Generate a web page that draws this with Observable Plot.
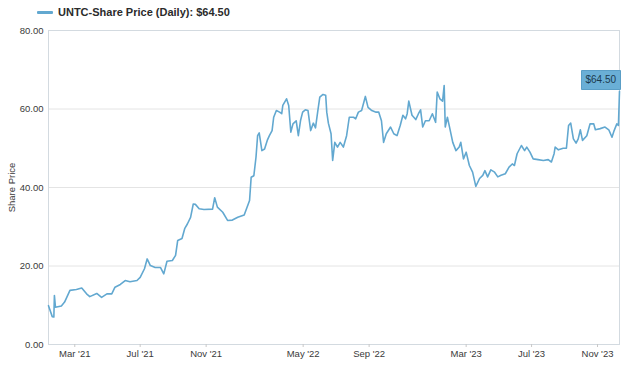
<!DOCTYPE html>
<html><head><meta charset="utf-8">
<script src="https://cdn.jsdelivr.net/npm/d3@7"></script>
<script src="https://cdn.jsdelivr.net/npm/@observablehq/plot@0.6"></script>
<style>
body{margin:0;background:#fff;font-family:"Liberation Sans",Arial,sans-serif;}
#legend{height:24px;display:flex;align-items:center;padding-left:37px;font-size:11px;font-weight:bold;color:#2b2b2b;}
#legend .sw{width:16px;height:3px;background:#62a8d0;margin-right:5px;border-radius:1px}
g[aria-label="tip"] text{fill:#1c3a4e}
</style></head><body>
<div id="legend"><span class="sw"></span><span id="legtext">UNTC-Share Price (Daily): $64.50</span></div>
<div id="chart"></div>
<script>
const seriesName = "UNTC-Share Price (Daily)";
const dates = [
"2021-01-11","2021-01-18","2021-01-21","2021-01-22","2021-01-24","2021-02-04","2021-02-10","2021-02-20",
"2021-03-04","2021-03-14","2021-03-23","2021-03-29","2021-04-11","2021-04-20","2021-04-30","2021-05-09",
"2021-05-15","2021-05-25","2021-06-03","2021-06-12","2021-06-25","2021-07-01","2021-07-09","2021-07-14",
"2021-07-20","2021-07-29","2021-08-08","2021-08-14","2021-08-20","2021-08-30","2021-09-05","2021-09-09",
"2021-09-17","2021-09-22","2021-09-27","2021-10-03","2021-10-08","2021-10-12","2021-10-19","2021-10-28",
"2021-11-13","2021-11-17","2021-11-22","2021-12-02","2021-12-11","2021-12-20","2021-12-30","2022-01-11",
"2022-01-21","2022-01-24","2022-01-29","2022-02-02","2022-02-05","2022-02-08","2022-02-13","2022-02-18",
"2022-02-23","2022-02-27","2022-03-04","2022-03-07","2022-03-12","2022-03-18","2022-03-22","2022-03-24",
"2022-03-31","2022-04-04","2022-04-08","2022-04-12","2022-04-18","2022-04-22","2022-04-26","2022-04-30",
"2022-05-05","2022-05-10","2022-05-15","2022-05-20","2022-05-24","2022-05-28","2022-06-01","2022-06-07",
"2022-06-12","2022-06-14","2022-06-17","2022-06-22","2022-06-25","2022-06-29","2022-07-04","2022-07-09",
"2022-07-15","2022-07-21","2022-07-26","2022-08-03","2022-08-07","2022-08-12","2022-08-18","2022-08-25",
"2022-08-30","2022-09-06","2022-09-14","2022-09-19","2022-09-24","2022-09-28","2022-10-03","2022-10-11",
"2022-10-17","2022-10-23","2022-10-29","2022-11-03","2022-11-08","2022-11-11","2022-11-14","2022-11-20",
"2022-11-27","2022-12-02","2022-12-06","2022-12-10","2022-12-15","2022-12-22","2022-12-28","2023-01-03",
"2023-01-06","2023-01-11","2023-01-16","2023-01-19","2023-01-21","2023-01-25","2023-01-29","2023-02-04",
"2023-02-10","2023-02-16","2023-02-19","2023-02-24","2023-03-01","2023-03-07","2023-03-13","2023-03-19",
"2023-03-26","2023-04-01","2023-04-05","2023-04-10","2023-04-16","2023-04-23","2023-04-29","2023-05-05",
"2023-05-13","2023-05-20","2023-05-26","2023-05-30","2023-06-04","2023-06-12","2023-06-18","2023-06-22",
"2023-06-28","2023-07-04","2023-07-13","2023-07-23","2023-08-01","2023-08-07","2023-08-12","2023-08-14",
"2023-08-20","2023-08-29","2023-09-04","2023-09-08","2023-09-12","2023-09-17","2023-09-22","2023-09-26",
"2023-09-30","2023-10-04","2023-10-12","2023-10-18","2023-10-25","2023-10-28","2023-11-06","2023-11-15",
"2023-11-22","2023-11-28","2023-12-02","2023-12-07","2023-12-10","2023-12-12"
];
const prices = [
9.9,7.1,7.0,12.5,9.5,9.8,10.8,13.8,
14.0,14.4,12.9,12.2,13.0,12.0,12.9,12.9,
14.6,15.3,16.3,16.0,16.3,17.1,19.3,21.8,
20.1,19.6,19.6,18.0,21.2,21.4,22.7,26.5,
27.0,29.5,30.7,32.4,35.8,35.7,34.6,34.4,
34.5,37.4,35.0,33.7,31.6,31.7,32.4,33.0,
36.7,42.6,43.0,47.7,53.2,53.9,49.4,49.8,
52.0,53.2,54.5,57.9,59.6,59.2,58.8,60.9,
62.6,60.9,54.1,56.2,57.0,53.2,57.0,59.2,
59.8,59.6,54.5,56.4,55.2,59.2,63.0,63.7,
63.5,59.2,56.4,53.7,46.9,51.5,50.3,51.5,
50.3,53.2,57.9,57.9,57.5,59.2,59.6,63.2,
60.4,59.6,59.2,59.2,57.0,51.5,53.7,55.4,
53.7,53.2,55.8,58.4,57.5,58.8,62.0,58.4,
57.3,58.8,59.8,55.4,57.0,57.0,58.8,56.6,
64.3,62.6,62.0,66.0,55.4,57.9,55.4,51.5,
49.4,50.3,51.5,47.3,49.0,45.6,43.9,40.3,
42.3,43.1,44.3,42.7,44.5,43.9,42.7,43.1,
43.5,45.2,46.0,45.6,48.6,50.7,49.4,50.3,
49.0,47.3,47.1,46.9,47.1,46.5,48.6,50.3,
49.6,50.0,50.0,55.8,56.4,52.4,51.3,52.4,
54.7,52.0,53.2,56.2,56.2,54.7,55.0,55.4,
54.7,52.8,54.5,56.2,55.8,64.5
];
const yTicks = [0, 20, 40, 60, 80];
const xTicks = ["2021-03-01","2021-07-01","2021-11-01","2022-05-01","2022-09-01","2023-03-01","2023-07-01","2023-11-01"];

const data = dates.map((d, i) => ({date: new Date(d), price: prices[i]}));
const last = data[data.length - 1];
document.getElementById("legtext").textContent = `${seriesName}: $${last.price.toFixed(2)}`;

const chart = Plot.plot({
  width: 624,
  height: 345,
  marginTop: 6,
  marginBottom: 25,
  marginLeft: 48,
  marginRight: 5,
  style: {fontFamily: "'Liberation Sans', Arial, sans-serif", fontSize: "9.5px", color: "#3a3a3a", background: "#fff"},
  x: {type: "utc"},
  y: {domain: [0, 80]},
  marks: [
    Plot.gridY(yTicks, {stroke: "#e4e4e4", strokeOpacity: 1}),
    Plot.frame({stroke: "#d3dae0"}),
    Plot.axisY({ticks: yTicks, tickFormat: d => d.toFixed(2), tickSize: 0, tickPadding: 5,
      label: "Share Price", labelAnchor: "center", labelArrow: "none", labelOffset: 40}),
    Plot.axisX({ticks: xTicks.map(d => new Date(d)), tickFormat: d3.utcFormat("%b '%y"),
      tickSize: 3, tickPadding: 3, stroke: "#c8c8c8", label: null}),
    Plot.line(data, {x: "date", y: "price", stroke: "#62a8d0", strokeWidth: 1.6}),
    Plot.tip([last], {x: "date", y: "price", title: d => "$" + d.price.toFixed(2),
      anchor: "bottom-right", pointerSize: 0, fill: "#6aafd6", stroke: "#5a9ec6",
      pathFilter: "none", textPadding: 4, fontSize: 10, dx: 1, dy: -2})
  ]
});
document.getElementById("chart").appendChild(chart);
</script>
</body></html>
